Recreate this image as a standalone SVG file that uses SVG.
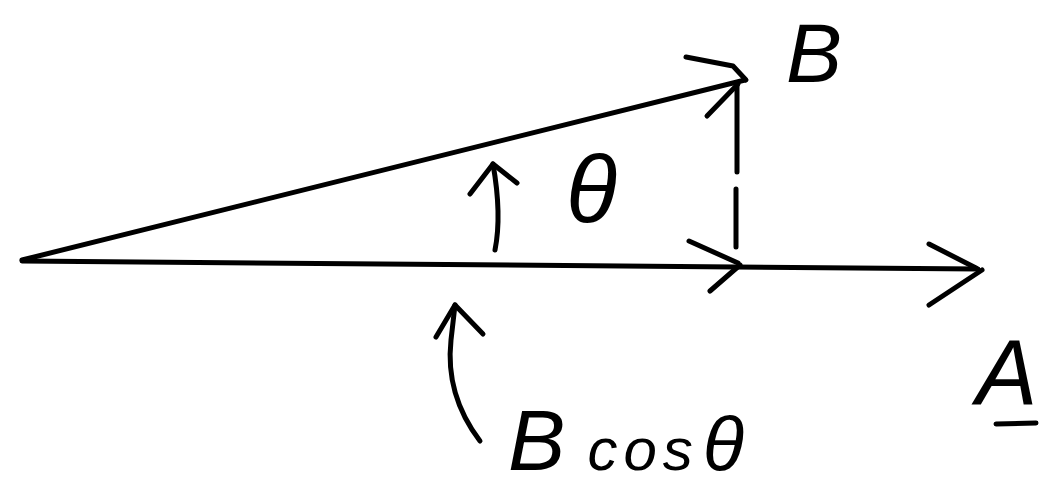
<svg xmlns="http://www.w3.org/2000/svg" width="1039" height="491" viewBox="0 0 1039 491">
<style>
.ink{fill:none;stroke:#000;stroke-width:5;stroke-linecap:round;stroke-linejoin:round}
.hand{font-family:"Liberation Sans",Arial,sans-serif;font-style:italic;fill:#000}
</style>
<rect width="1039" height="491" fill="#fff"/>
<g id="connectors">
  <g id="vectorB">
    <path class="ink" d="M22,260 L745,80"/>
    <path class="ink" d="M686,57 L733,66 L746,80 M707,116 L738,84"/>
  </g>
  <g id="vectorA">
    <path class="ink" d="M22,261 L978,269"/>
    <path class="ink" d="M929,244 L976,268 M929,305 L982,270"/>
  </g>
  <g id="projection">
    <path class="ink" d="M689,241 L738,263 M710,291 L740,265"/>
    <path class="ink" d="M737,86 L737,172 M736,189 L736,247"/>
  </g>
  <g id="thetaArrow">
    <path class="ink" d="M495,250 Q502,215 493,164"/>
    <path class="ink" d="M470,194 L493,164 L517,183"/>
  </g>
  <g id="projArrow">
    <path class="ink" d="M480,441 Q445,395 451,340 L455,305"/>
    <path class="ink" d="M436,337 L455,305 L483,334"/>
  </g>
</g>
<g id="labelB"><text class="hand" x="786" y="82" font-size="84">B</text></g>
<g id="labelTheta"><text class="hand" x="566" y="222" font-size="94">θ</text></g>
<g id="labelBcos"><text class="hand" x="508" y="470" font-size="86">B<tspan dx="22" font-size="60" letter-spacing="6">cos</tspan><tspan dx="4" font-size="76">θ</tspan></text></g>
<g id="labelA">
  <text class="hand" x="976" y="405" font-size="92">A</text>
  <path class="ink" d="M996,424 L1036,423"/>
</g>
</svg>
